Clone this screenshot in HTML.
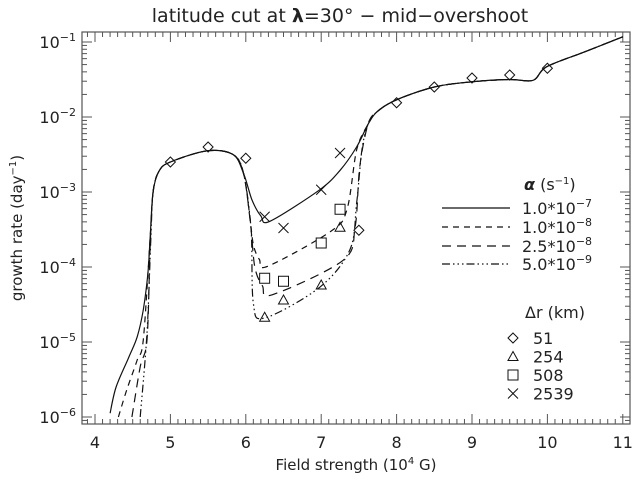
<!DOCTYPE html>
<html><head><meta charset="utf-8"><style>
body{margin:0;background:#fff}
svg{display:block;font-family:"DejaVu Sans","Liberation Sans",sans-serif}
</style></head><body>
<svg id="c" width="638" height="481"></svg>
<script>
// ---- data (x = field strength 1e4 G, y = log10 growth rate) ----
const xTicks=[4,5,6,7,8,9,10,11];
const yTickExps=[-1,-2,-3,-4,-5,-6];
const commonTopX=[4.77,4.85,5.0,5.49,5.83,5.97];
const commonTopY=[-3.0,-2.72,-2.6,-2.45,-2.5,-2.75];
const commonHighX=[7.62,7.74,8.0,8.5,9.0,9.5,9.81,9.99,10.5,11.0];
const commonHighY=[-2.1,-1.93,-1.77,-1.6,-1.53,-1.5,-1.51,-1.33,-1.13,-0.93];
const s1X=[4.2,4.28,4.45,4.56,4.64,4.7,4.73];
const s1Y=[-5.95,-5.6,-5.2,-4.93,-4.57,-4.1,-3.64];
const s1MidX=[6.08,6.2,6.32,6.98,7.25,7.47];
const s1MidY=[-3.1,-3.32,-3.39,-2.97,-2.71,-2.4];
const s2X=[4.31,4.42,4.56,4.64,4.73];
const s2Y=[-6.0,-5.64,-5.24,-4.97,-3.64];
const s2MidX=[6.05,6.1,6.18,6.29,7.12,7.34,7.47];
const s2MidY=[-3.3,-3.7,-3.9,-3.99,-3.53,-3.24,-2.44];
const s3X=[4.49,4.6,4.69,4.73];
const s3Y=[-6.0,-5.33,-4.97,-3.77];
const s3MidX=[6.06,6.12,6.22,6.35,7.29,7.45,7.51];
const s3MidY=[-3.4,-4.0,-4.25,-4.37,-3.91,-3.47,-2.67];
const s4X=[4.6,4.69,4.74];
const s4Y=[-6.0,-4.88,-3.64];
const s4MidX=[6.07,6.1,6.25,6.98,7.38,7.47,7.54];
const s4MidY=[-3.5,-4.48,-4.68,-4.27,-3.77,-3.15,-2.44];
const diaX=[5.0,5.5,6.0,7.5,8.0,8.5,9.0,9.5,10.0];
const diaY=[-2.6,-2.4,-2.55,-3.51,-1.81,-1.6,-1.48,-1.44,-1.35];
const triX=[6.25,6.5,7.0,7.25];
const triY=[-4.67,-4.44,-4.24,-3.47];
const sqX=[6.25,6.5,7.0,7.25];
const sqY=[-4.15,-4.19,-3.68,-3.23];
const crX=[6.25,6.5,7.0,7.25];
const crY=[-3.33,-3.48,-2.97,-2.48];

const L=82,R=630,T=32,B=424;
const px=x=>95+(x-4)*75.4;
const py=e=>42+(-1-e)*75;
const NS="http://www.w3.org/2000/svg";
const svg=document.getElementById('c');
function mk(t,a,p){const e=document.createElementNS(NS,t);for(const k in a)e.setAttribute(k,a[k]);(p||svg).appendChild(e);return e;}
const ink="#222";

const frame=mk('rect',{x:L,y:T,width:R-L,height:B-T,fill:'none',stroke:'#555','stroke-width':1.2});



for(let i=0;i<=72;i++){const v=3.9+i*0.1;const x=px(v);if(x<L+1||x>R-1)continue;
 const major=Math.abs(v-Math.round(v))<1e-6;const len=major?10:5;
 mk('line',{x1:x,x2:x,y1:B,y2:B-len,stroke:'#555'});mk('line',{x1:x,x2:x,y1:T,y2:T+len,stroke:'#555'});}
xTicks.forEach(v=>{const t=mk('text',{x:px(v),y:B+24,'text-anchor':'middle','font-size':16,fill:ink});t.textContent=v;
 
 });
for(let e=-7;e<=-1;e++){for(let m=1;m<=9;m++){const y=py(e+Math.log10(m));if(y<T||y>B)continue;const len=m==1?10:5;
 mk('line',{x1:L,x2:L+len,y1:y,y2:y,stroke:'#555'});mk('line',{x1:R,x2:R-len,y1:y,y2:y,stroke:'#555'});}}
yTickExps.forEach(e=>{const t=mk('text',{x:L-6,y:py(e)+6,'text-anchor':'end','font-size':16,fill:ink});
 t.innerHTML='10<tspan dy="-7" font-size="11">'+(e<0?'−':'')+Math.abs(e)+'</tspan>';
 
 });

const tt=mk('text',{x:340,y:22,'text-anchor':'middle','font-size':19,fill:ink});
tt.innerHTML='latitude cut at <tspan font-weight="bold">λ</tspan>=30° − mid−overshoot';


const xt=mk('text',{x:356,y:470,'text-anchor':'middle','font-size':15,fill:ink});
xt.innerHTML='Field strength (10<tspan dy="-6" font-size="10">4</tspan><tspan dy="6"> G)</tspan>';


const yt=mk('text',{x:0,y:0,'text-anchor':'middle','font-size':15,fill:ink,transform:'translate(22,228) rotate(-90)'});
yt.innerHTML='growth rate (day<tspan dy="-6" font-size="10">−1</tspan><tspan dy="6">)</tspan>';



const cp=mk('clipPath',{id:'cp'});mk('rect',{x:L,y:T,width:R-L,height:B-T},cp);
const g=mk('g',{'clip-path':'url(#cp)'});
function path(xs,ys){const P=xs.map((x,i)=>[px(x),py(ys[i])]);
 let d='M'+P[0][0].toFixed(1)+','+P[0][1].toFixed(1);
 for(let i=0;i<P.length-1;i++){const p0=P[i-1]||P[i],p1=P[i],p2=P[i+1],p3=P[i+2]||p2;
  const k=0.16;
  const c1=[p1[0]+(p2[0]-p0[0])*k,p1[1]+(p2[1]-p0[1])*k],c2=[p2[0]-(p3[0]-p1[0])*k,p2[1]-(p3[1]-p1[1])*k];
  d+='C'+c1.map(v=>v.toFixed(1))+' '+c2.map(v=>v.toFixed(1))+' '+p2.map(v=>v.toFixed(1));}
 return d;}
const series=[
 [s1X,s1Y,s1MidX,s1MidY,'','alpha-1e-7-line'],
 [s2X,s2Y,s2MidX,s2MidY,'6,5','alpha-1e-8-line'],
 [s3X,s3Y,s3MidX,s3MidY,'9,6','alpha-2.5e-8-line'],
 [s4X,s4Y,s4MidX,s4MidY,'8,3,1.5,3,1.5,3,1.5,3','alpha-5e-9-line']];
series.forEach(s=>{const xs=[...s[0],...commonTopX,...s[2],...commonHighX];const ys=[...s[1],...commonTopY,...s[3],...commonHighY];
 const p=mk('path',{d:path(xs,ys),fill:'none',stroke:'#111','stroke-width':1.2,'stroke-dasharray':s[4]},g);
 
 });

function marker(kind,x,y,parent){const s=5;let e;
 if(kind=='d')e=mk('path',{d:`M${x},${y-s}L${x+s},${y}L${x},${y+s}L${x-s},${y}Z`,fill:'none',stroke:'#111'},parent);
 else if(kind=='t')e=mk('path',{d:`M${x},${y-s}L${x+s},${y+s-1}L${x-s},${y+s-1}Z`,fill:'none',stroke:'#111'},parent);
 else if(kind=='s')e=mk('rect',{x:x-5,y:y-5,width:10,height:10,fill:'none',stroke:'#111'},parent);
 else e=mk('path',{d:`M${x-5},${y-5}L${x+5},${y+5}M${x-5},${y+5}L${x+5},${y-5}`,fill:'none',stroke:'#111'},parent);
 return e;}
[[diaX,diaY,'d','marker-51km'],[triX,triY,'t','marker-254km'],[sqX,sqY,'s','marker-508km'],[crX,crY,'x','marker-2539km']].forEach(m=>{
 m[0].forEach((x,i)=>{const e=marker(m[2],px(x),py(m[1][i]),g);
  
  });});

const ah=mk('text',{x:524,y:190,'font-size':16,fill:ink});
ah.innerHTML='<tspan font-weight="bold" font-style="italic">α</tspan> (s<tspan dy="-6" font-size="10">−1</tspan><tspan dy="6">)</tspan>';


const labs=[['1.0*10','−7'],['1.0*10','−8'],['2.5*10','−8'],['5.0*10','−9']];
[208,227,246,264].forEach((y,i)=>{
 const l=mk('line',{x1:442,x2:510,y1:y,y2:y,stroke:'#111','stroke-width':1.2,'stroke-dasharray':series[i][4]});
 
 
 const t=mk('text',{x:522,y:y+6,'font-size':16,fill:ink});
 t.innerHTML=labs[i][0]+'<tspan dy="-7" font-size="11">'+labs[i][1]+'</tspan>';
 
 });
const dh=mk('text',{x:525,y:318,'font-size':16,fill:ink});
dh.textContent='Δr (km)';


[['d','51'],['t','254'],['s','508'],['x','2539']].forEach((m,i)=>{const y=338+i*18.5;
 const e=marker(m[0],513,y);
 
 
 const t=mk('text',{x:533,y:y+6,'font-size':16,fill:ink});t.textContent=m[1];
 
 });
</script>
</body></html>
